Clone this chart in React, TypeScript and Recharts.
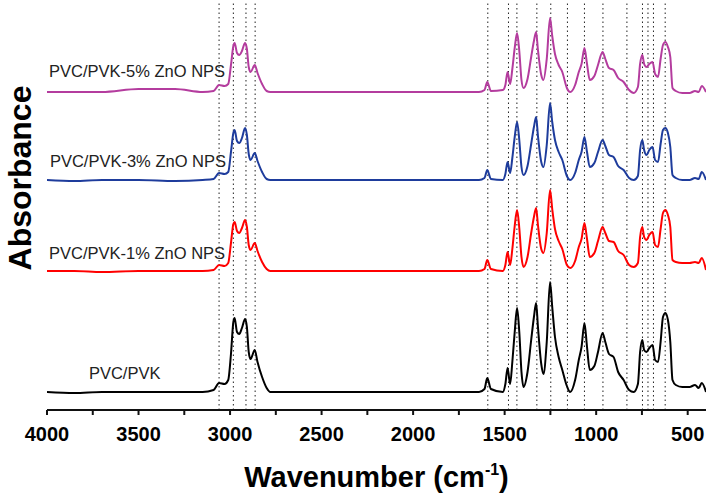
import { FC } from "react";
import { LineChart, Line, XAxis, YAxis, ReferenceLine, ReferenceDot, Label } from "recharts";

// wavenumbers (cm-1) shared by all four spectra
const WAVENUMBERS = [
  4000, 3850, 3700, 3500, 3300, 3150, 3090, 3060, 3030, 3010,
  2995, 2982, 2975, 2962, 2950, 2935, 2918, 2908, 2898, 2888,
  2865, 2850, 2825, 2800, 2780, 2500, 2200, 1900, 1640, 1610,
  1595, 1575, 1510, 1496, 1484, 1470, 1458, 1445, 1432, 1420,
  1408, 1397, 1375, 1355, 1340, 1328, 1318, 1300, 1288, 1270,
  1252, 1240, 1225, 1205, 1185, 1160, 1142, 1115, 1095, 1080,
  1064, 1050, 1035, 1010, 990, 965, 950, 930, 905, 880,
  850, 820, 795, 772, 760, 748, 738, 725, 710, 692,
  678, 662, 648, 635, 622, 608, 595, 583, 565, 530,
  490, 460, 440, 423, 400,
];

// stacked absorbance (a.u.)
const PVC_PVK = [
  0.18, 0.17, 0.18, 0.18, 0.18, 0.18, 0.2, 0.27, 0.26, 0.3,
  0.56, 0.88, 0.92, 0.78, 0.76, 0.82, 0.91, 0.83, 0.58, 0.51,
  0.6, 0.48, 0.33, 0.22, 0.18, 0.18, 0.18, 0.18, 0.18, 0.21,
  0.32, 0.21, 0.18, 0.26, 0.42, 0.26, 0.48, 0.78, 1.02, 0.78,
  0.38, 0.23, 0.38, 0.7, 0.93, 1.07, 0.83, 0.46, 0.36, 0.68,
  1.28, 1.03, 0.73, 0.53, 0.4, 0.24, 0.18, 0.3, 0.5, 0.63,
  0.87, 0.63, 0.4, 0.44, 0.58, 0.77, 0.68, 0.56, 0.53, 0.38,
  0.3, 0.2, 0.18, 0.26, 0.58, 0.7, 0.6, 0.58, 0.62, 0.65,
  0.5, 0.48, 0.68, 0.93, 0.97, 0.9, 0.68, 0.3, 0.25, 0.23,
  0.23, 0.25, 0.22, 0.27, 0.18,
];

const ZNO_1 = [
  1.39, 1.39, 1.38, 1.39, 1.39, 1.39, 1.4, 1.45, 1.44, 1.47,
  1.67, 1.86, 1.88, 1.79, 1.77, 1.82, 1.9, 1.83, 1.65, 1.6,
  1.67, 1.59, 1.48, 1.41, 1.39, 1.39, 1.39, 1.39, 1.39, 1.41,
  1.5, 1.41, 1.39, 1.45, 1.58, 1.45, 1.61, 1.84, 2.0, 1.82,
  1.53, 1.43, 1.53, 1.77, 1.93, 2.02, 1.85, 1.61, 1.57, 1.77,
  2.2, 2.01, 1.81, 1.69, 1.61, 1.45, 1.42, 1.49, 1.63, 1.71,
  1.87, 1.71, 1.53, 1.57, 1.69, 1.83, 1.77, 1.69, 1.68, 1.59,
  1.55, 1.45, 1.43, 1.47, 1.73, 1.83, 1.73, 1.7, 1.75, 1.78,
  1.65, 1.63, 1.81, 1.97, 2.0, 1.95, 1.83, 1.5, 1.48, 1.47,
  1.47, 1.48, 1.47, 1.52, 1.4,
];

const ZNO_3 = [
  2.3, 2.29, 2.3, 2.3, 2.29, 2.3, 2.31, 2.37, 2.36, 2.38,
  2.58, 2.77, 2.8, 2.69, 2.67, 2.72, 2.82, 2.75, 2.56, 2.5,
  2.57, 2.49, 2.38, 2.31, 2.3, 2.3, 2.3, 2.3, 2.3, 2.32,
  2.4, 2.31, 2.3, 2.36, 2.48, 2.37, 2.52, 2.73, 2.88, 2.7,
  2.43, 2.35, 2.44, 2.66, 2.83, 2.93, 2.74, 2.48, 2.43, 2.65,
  3.07, 2.88, 2.7, 2.58, 2.5, 2.34, 2.3, 2.37, 2.5, 2.58,
  2.73, 2.58, 2.43, 2.47, 2.58, 2.7, 2.64, 2.55, 2.53, 2.44,
  2.4, 2.32, 2.3, 2.34, 2.6, 2.7, 2.6, 2.55, 2.6, 2.63,
  2.5, 2.48, 2.66, 2.8, 2.82, 2.77, 2.63, 2.35, 2.32, 2.3,
  2.3, 2.32, 2.31, 2.38, 2.3,
];

const ZNO_5 = [
  3.18, 3.18, 3.18, 3.21, 3.21, 3.18, 3.19, 3.25, 3.24, 3.26,
  3.45, 3.64, 3.67, 3.57, 3.55, 3.59, 3.67, 3.61, 3.43, 3.38,
  3.45, 3.37, 3.26, 3.19, 3.18, 3.18, 3.18, 3.18, 3.18, 3.2,
  3.28, 3.19, 3.2, 3.25, 3.38, 3.26, 3.41, 3.62, 3.77, 3.59,
  3.3, 3.22, 3.31, 3.53, 3.69, 3.78, 3.6, 3.35, 3.3, 3.51,
  3.92, 3.74, 3.56, 3.45, 3.38, 3.22, 3.18, 3.25, 3.38, 3.46,
  3.62, 3.46, 3.3, 3.34, 3.45, 3.58, 3.51, 3.42, 3.4, 3.32,
  3.28, 3.2, 3.17, 3.23, 3.46, 3.55, 3.46, 3.43, 3.46, 3.48,
  3.36, 3.33, 3.51, 3.65, 3.68, 3.63, 3.53, 3.22, 3.19, 3.17,
  3.17, 3.19, 3.18, 3.24, 3.18,
];

// band positions marked with dotted lines
const BANDS = [3060, 2982, 2913, 2863, 1592, 1479, 1433, 1324, 1248, 1157, 1064, 963, 832, 747, 717, 687, 623];

const X_TICKS = [4000, 3750, 3500, 3250, 3000, 2750, 2500, 2250, 2000, 1750, 1500, 1250, 1000, 750, 500];

const data = WAVENUMBERS.map((wn, i) => ({
  wn,
  base: PVC_PVK[i],
  zno1: ZNO_1[i],
  zno3: ZNO_3[i],
  zno5: ZNO_5[i],
}));

const SERIES = [
  { key: "base", color: "#000000", label: "PVC/PVK", lx: 3771, ly: 0.375 },
  { key: "zno1", color: "#ff0000", label: "PVC/PVK-1% ZnO NPS", lx: 3989, ly: 1.575 },
  { key: "zno3", color: "#1e3c9c", label: "PVC/PVK-3% ZnO NPS", lx: 3984, ly: 2.49 },
  { key: "zno5", color: "#b43c9e", label: "PVC/PVK-5% ZnO NPS", lx: 3989, ly: 3.39 },
];

const FONT = "'Liberation Sans', Arial, sans-serif";

// both axis titles are drawn from the bottom axis label
const AxisTitles = () => (
  <g>
    <text x={376.5} y={487} textAnchor="middle" fontFamily={FONT} fontSize={29} fontWeight="bold" fill="#000">
      Wavenumber (cm
      <tspan dy={-12} fontSize={16}>-1</tspan>
      <tspan dy={12}>)</tspan>
    </text>
    <text
      x={20}
      y={178}
      transform="rotate(-90, 20, 178)"
      textAnchor="middle"
      dominantBaseline="central"
      fontFamily={FONT}
      fontSize={32}
      fontWeight="bold"
      fill="#000"
    >
      Absorbance
    </text>
  </g>
);

const SeriesLabel: FC<{ text: string }> = ({ text }) => {
  const LabelContent = (props: any) => {
    const { viewBox } = props;
    const x = viewBox?.x ?? 0;
    const y = viewBox?.y ?? 0;
    return (
      <text x={x} y={y} dominantBaseline="central" fontFamily={FONT} fontSize={16.5} fill="#222">
        {text}
      </text>
    );
  };
  return <Label content={LabelContent} />;
};

export default function App() {
  return (
    <div style={{ position: "absolute", left: 0, top: 0, background: "#fff" }}>
      <LineChart width={709} height={493} data={data} margin={{ top: 3, right: 3, left: 47, bottom: 0 }}>
        <XAxis
          dataKey="wn"
          type="number"
          domain={[400, 4000]}
          reversed
          allowDataOverflow
          ticks={X_TICKS}
          interval={0}
          tickFormatter={(v: number) => (v % 500 === 0 ? String(v) : "")}
          height={83}
          tickSize={5}
          tickMargin={12}
          axisLine={{ stroke: "#111", strokeWidth: 2 }}
          tickLine={{ stroke: "#111", strokeWidth: 2 }}
          tick={{ fontSize: 20, fontWeight: "bold", fill: "#000", fontFamily: FONT }}
          label={<Label content={AxisTitles} />}
        />
        <XAxis
          xAxisId="top"
          orientation="top"
          dataKey="wn"
          type="number"
          domain={[400, 4000]}
          reversed
          height={0}
          tick={false}
          tickLine={false}
          axisLine={{ stroke: "#333", strokeWidth: 1.5 }}
        />
        <YAxis
          domain={[0, 4.07]}
          allowDataOverflow
          width={0}
          tick={false}
          tickLine={false}
          axisLine={{ stroke: "#111", strokeWidth: 2 }}
        />
        <YAxis
          yAxisId="right"
          orientation="right"
          domain={[0, 4.07]}
          width={0}
          tick={false}
          tickLine={false}
          axisLine={{ stroke: "#333", strokeWidth: 1.5 }}
        />
        {BANDS.map((b) => (
          <ReferenceLine key={b} x={b} stroke="#222" strokeWidth={1} strokeDasharray="1.5 3" />
        ))}
        {SERIES.map((s) => (
          <Line
            key={s.key}
            dataKey={s.key}
            type="monotone"
            stroke={s.color}
            strokeWidth={2}
            dot={false}
            isAnimationActive={false}
          />
        ))}
        {SERIES.map((s) => (
          <ReferenceDot key={"l" + s.key} x={s.lx} y={s.ly} r={0} stroke="none" fill="none">
            {SeriesLabel({ text: s.label })}
          </ReferenceDot>
        ))}
      </LineChart>
    </div>
  );
}
